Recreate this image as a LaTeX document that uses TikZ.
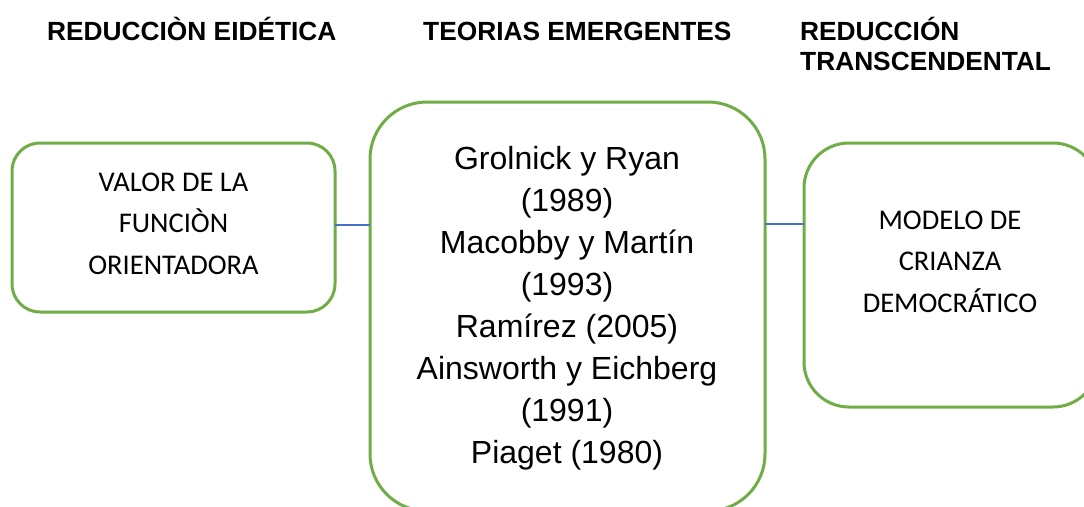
\documentclass[tikz,border=0pt]{standalone}
\usepackage{fontspec}
\setmainfont{Liberation Sans}
\newfontfamily\calfont{Carlito}
\definecolor{boxgreen}{HTML}{70AD47}
\definecolor{linkblue}{HTML}{4472C4}
\begin{document}
\begin{tikzpicture}[x=1pt,y=-1pt,
  box/.style={draw=boxgreen, line width=3pt, rectangle, rounded corners=#1, inner sep=0pt, outer sep=0pt},
  link/.style={draw=linkblue, line width=1.3pt},
  header/.style={anchor=base west, inner sep=0pt, font=\bfseries\fontsize{26.3}{30}\selectfont},
  caltext/.style={anchor=base, inner sep=0pt, font=\calfont\fontsize{28.5}{41.5}\selectfont},
  arialtext/.style={anchor=base, inner sep=0pt, font=\fontsize{32}{42.1}\selectfont}]
\useasboundingbox (0,0) rectangle (1084,506);
\clip (0,0) rectangle (1084,506);
\fill[white] (0,0) rectangle (1084,506);
% headers
\node[header] (h1) at (47,40.5) {REDUCCIÒN EIDÉTICA};
\node[header] (h2) at (423,40.5) {TEORIAS EMERGENTES};
\node[header] (h3) at (800,40.5) {\begin{tabular}[t]{@{}l@{}}REDUCCIÓN\\TRANSCENDENTAL\end{tabular}};
% boxes
\node[box=28pt, minimum width=323pt, minimum height=169pt] (L) at (173.5,227.5) {};
\node[box=57pt, minimum width=395pt, minimum height=409pt] (M) at (567.5,306.5) {};
\node[box=45pt, minimum width=294pt, minimum height=264pt] (R) at (951,275) {};
% texts
\node[caltext] (lt) at (173.5,191) {\begin{tabular}[t]{@{}c@{}}VALOR DE LA\\FUNCIÒN\\ORIENTADORA\end{tabular}};
\node[arialtext] (mt) at (567,169) {\begin{tabular}[t]{@{}c@{}}Grolnick y Ryan\\(1989)\\Macobby y Martín\\(1993)\\Ramírez (2005)\\Ainsworth y Eichberg\\(1991)\\Piaget (1980)\end{tabular}};
\node[caltext] (rt) at (950,229) {\begin{tabular}[t]{@{}c@{}}MODELO DE\\CRIANZA\\DEMOCRÁTICO\end{tabular}};
% connectors
\coordinate (c1) at (0,225);
\coordinate (c2) at (0,224);
\draw[link] (L.east |- c1) -- (M.west |- c1);
\draw[link] (M.east |- c2) -- (R.west |- c2);
\end{tikzpicture}
\end{document}
